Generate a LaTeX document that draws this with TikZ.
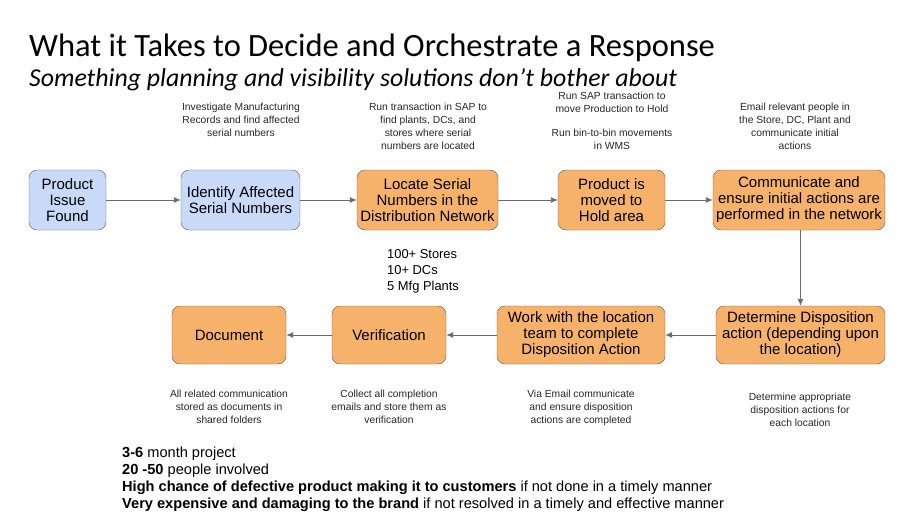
\documentclass[tikz,border=0pt]{standalone}
\usepackage{fontspec}
\setmainfont{Liberation Sans}
\newfontfamily\titlefont{Carlito}
\usetikzlibrary{arrows.meta}

\definecolor{boxblue}{HTML}{C9DAF8}
\definecolor{boxorange}{HTML}{F6B26B}
\definecolor{edgegray}{HTML}{595959}
\definecolor{arrowgray}{HTML}{6B6B6B}

\newcommand{\boxfont}{\fontsize{15}{16}\selectfont}
\newcommand{\notefont}{\fontsize{10.3}{13}\selectfont}

\tikzset{
  bluebox/.style={draw=edgegray, fill=boxblue, rounded corners=8pt, align=center,
    font=\boxfont, inner sep=0pt, minimum height=60pt},
  orangebox/.style={bluebox, fill=boxorange},
  note/.style={align=center, font=\notefont, text=black!85, inner sep=0pt, anchor=north},
  flow/.style={draw=arrowgray, line width=0.9pt, -{Latex[length=7pt,width=6pt]}}
}

\begin{document}
\begin{tikzpicture}[x=1pt,y=-1pt]
\useasboundingbox (0,0) rectangle (913,519);

% heading
\node[anchor=base west, inner sep=0pt, font=\titlefont\fontsize{32.5}{36}\selectfont] (title) at (29,56.5) {What it Takes to Decide and Orchestrate a Response};
\node[anchor=base west, inner sep=0pt, text depth=0pt, font=\titlefont\itshape\fontsize{25.8}{28}\selectfont] (subtitle) at (29,86.5) {Something planning and visibility solutions don’t bother about};

% first row
\node[bluebox, minimum width=77pt] (found) at (67.5,200) {Product\\Issue\\Found};
\node[bluebox, minimum width=119pt] (identify) at (240.5,200) {Identify Affected\\Serial Numbers};
\node[orangebox, minimum width=141pt] (locate) at (427.5,200) {Locate Serial\\Numbers in the\\Distribution Network};
\node[orangebox, minimum width=107pt] (hold) at (611.5,200) {Product is\\moved to\\Hold area};
\node[orangebox, minimum width=172pt] (communicate) at (799,200) {Communicate and\\ensure initial actions are\\performed in the network};

% second row
\node[orangebox, minimum width=169pt, minimum height=58pt] (determine) at (800.5,335) {Determine Disposition\\action (depending upon\\the location)};
\node[orangebox, minimum width=168pt, minimum height=58pt] (work) at (581,335) {Work with the location\\team to complete\\Disposition Action};
\node[orangebox, minimum width=114pt, minimum height=58pt] (verify) at (389,335) {Verification};
\node[orangebox, minimum width=114pt, minimum height=58pt] (document) at (229,335) {Document};

% notes
\node[note] (noteidentify) at (241,103) {Investigate Manufacturing\\Records and find affected\\serial numbers};
\node[note] (notelocate) at (428,103) {Run transaction in SAP to\\find plants, DCs, and\\stores where serial\\numbers are located};
\node[note] (notehold) at (612,92) {Run SAP transaction to\\move Production to Hold\\[11pt]Run bin-to-bin movements\\in WMS};
\node[note] (notecomm) at (795,103) {Email relevant people in\\the Store, DC, Plant and\\communicate initial\\actions};
\node[anchor=north west, align=left, inner sep=0pt, font=\fontsize{12.9}{16}\selectfont] (counts) at (387,249) {100+ Stores\\10+ DCs\\5 Mfg Plants};

\node[note] (notedoc) at (229,390) {All related communication\\stored as documents in\\shared folders};
\node[note] (noteverify) at (389,390) {Collect all completion\\emails and store them as\\verification};
\node[note] (notework) at (581,390) {Via Email communicate\\and ensure disposition\\actions are completed};
\node[note] (notedet) at (800,393) {Determine appropriate\\disposition actions for\\each location};

% connectors
\draw[flow] (found) -- (identify);
\draw[flow] (identify) -- (locate);
\draw[flow] (locate) -- (hold);
\draw[flow] (hold) -- (communicate);
\draw[flow] (communicate.south -| determine.north) -- (determine.north);
\draw[flow] (determine) -- (work);
\draw[flow] (work) -- (verify);
\draw[flow] (verify) -- (document);

% summary
\node[anchor=north west, align=left, inner sep=0pt, font=\fontsize{14.6}{17}\selectfont] (summary) at (122,447)
  {\textbf{3-6} month project\\
   \textbf{20 -50} people involved\\
   \textbf{High chance of defective product making it to customers} if not done in a timely manner\\
   \textbf{Very expensive and damaging to the brand} if not resolved in a timely and effective manner};
\end{tikzpicture}
\end{document}
